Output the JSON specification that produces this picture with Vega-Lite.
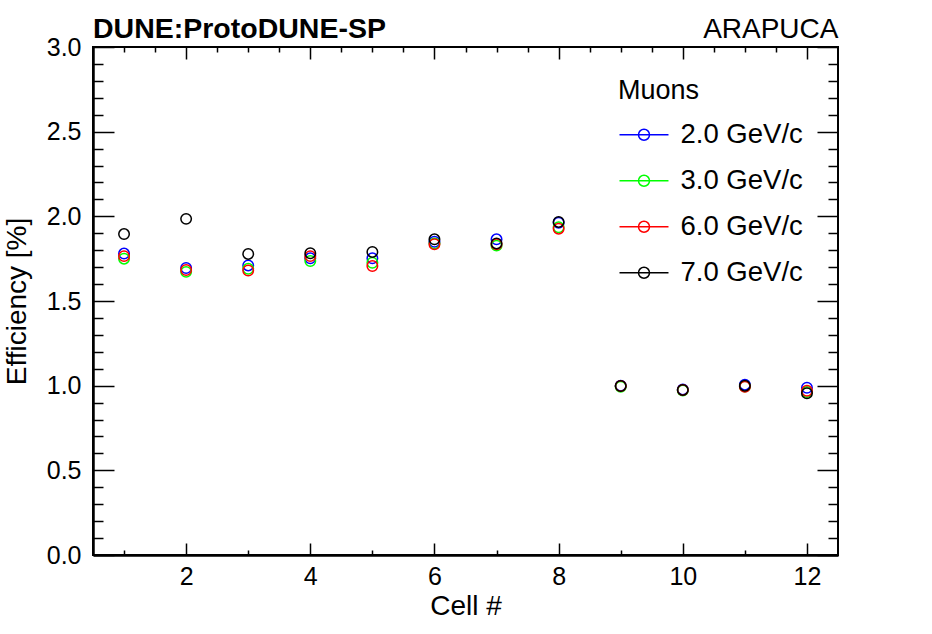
{
  "$schema": "https://vega.github.io/schema/vega-lite/v6.json",
  "width": 745,
  "height": 508,
  "autosize": "none",
  "padding": {"left": 93, "top": 47, "right": 94, "bottom": 79},
  "config": {
    "font": "Liberation Sans",
    "view": {"stroke": "black", "strokeWidth": 2},
    "axis": {
      "grid": false,
      "domainColor": "black",
      "tickColor": "black",
      "labelColor": "black",
      "titleColor": "black",
      "titleFontWeight": "normal",
      "tickWidth": 1.5
    }
  },
  "title": {
    "text": "DUNE:ProtoDUNE-SP",
    "anchor": "start",
    "frame": "group",
    "fontSize": 28.5,
    "fontWeight": "bold",
    "color": "black",
    "baseline": "alphabetic",
    "offset": -28,
    "dy": 23
  },
  "data": {
    "values": [
      {"cell": 1, "p": "2.0 GeV/c", "eff": 1.78},
      {"cell": 1, "p": "3.0 GeV/c", "eff": 1.75},
      {"cell": 1, "p": "6.0 GeV/c", "eff": 1.765},
      {"cell": 1, "p": "7.0 GeV/c", "eff": 1.895},
      {"cell": 2, "p": "2.0 GeV/c", "eff": 1.695},
      {"cell": 2, "p": "3.0 GeV/c", "eff": 1.672},
      {"cell": 2, "p": "6.0 GeV/c", "eff": 1.683},
      {"cell": 2, "p": "7.0 GeV/c", "eff": 1.985},
      {"cell": 3, "p": "2.0 GeV/c", "eff": 1.71},
      {"cell": 3, "p": "3.0 GeV/c", "eff": 1.69},
      {"cell": 3, "p": "6.0 GeV/c", "eff": 1.68},
      {"cell": 3, "p": "7.0 GeV/c", "eff": 1.778},
      {"cell": 4, "p": "2.0 GeV/c", "eff": 1.752},
      {"cell": 4, "p": "3.0 GeV/c", "eff": 1.736},
      {"cell": 4, "p": "6.0 GeV/c", "eff": 1.765},
      {"cell": 4, "p": "7.0 GeV/c", "eff": 1.782},
      {"cell": 5, "p": "2.0 GeV/c", "eff": 1.752},
      {"cell": 5, "p": "3.0 GeV/c", "eff": 1.726},
      {"cell": 5, "p": "6.0 GeV/c", "eff": 1.707},
      {"cell": 5, "p": "7.0 GeV/c", "eff": 1.79},
      {"cell": 6, "p": "2.0 GeV/c", "eff": 1.85},
      {"cell": 6, "p": "3.0 GeV/c", "eff": 1.84},
      {"cell": 6, "p": "6.0 GeV/c", "eff": 1.835},
      {"cell": 6, "p": "7.0 GeV/c", "eff": 1.864},
      {"cell": 7, "p": "2.0 GeV/c", "eff": 1.864},
      {"cell": 7, "p": "3.0 GeV/c", "eff": 1.827},
      {"cell": 7, "p": "6.0 GeV/c", "eff": 1.835},
      {"cell": 7, "p": "7.0 GeV/c", "eff": 1.84},
      {"cell": 8, "p": "2.0 GeV/c", "eff": 1.962},
      {"cell": 8, "p": "3.0 GeV/c", "eff": 1.935},
      {"cell": 8, "p": "6.0 GeV/c", "eff": 1.927},
      {"cell": 8, "p": "7.0 GeV/c", "eff": 1.967},
      {"cell": 9, "p": "2.0 GeV/c", "eff": 1.0},
      {"cell": 9, "p": "3.0 GeV/c", "eff": 0.994},
      {"cell": 9, "p": "6.0 GeV/c", "eff": 0.998},
      {"cell": 9, "p": "7.0 GeV/c", "eff": 0.998},
      {"cell": 10, "p": "2.0 GeV/c", "eff": 0.978},
      {"cell": 10, "p": "3.0 GeV/c", "eff": 0.972},
      {"cell": 10, "p": "6.0 GeV/c", "eff": 0.975},
      {"cell": 10, "p": "7.0 GeV/c", "eff": 0.975},
      {"cell": 11, "p": "2.0 GeV/c", "eff": 1.006},
      {"cell": 11, "p": "3.0 GeV/c", "eff": 0.995},
      {"cell": 11, "p": "6.0 GeV/c", "eff": 0.994},
      {"cell": 11, "p": "7.0 GeV/c", "eff": 1.0},
      {"cell": 12, "p": "2.0 GeV/c", "eff": 0.988},
      {"cell": 12, "p": "3.0 GeV/c", "eff": 0.962},
      {"cell": 12, "p": "6.0 GeV/c", "eff": 0.97},
      {"cell": 12, "p": "7.0 GeV/c", "eff": 0.955}
    ]
  },
  "layer": [
    {
      "mark": {"type": "point", "filled": false, "strokeWidth": 1.5, "size": 110, "opacity": 1},
      "encoding": {
        "x": {
          "field": "cell",
          "type": "quantitative",
          "scale": {"domain": [0.5, 12.5], "nice": false, "zero": false},
          "axis": {
            "orient": "bottom",
            "title": "Cell #",
            "titleFontSize": 28,
            "titlePadding": -4,
            "values": [1, 1.5, 2, 2.5, 3, 3.5, 4, 4.5, 5, 5.5, 6, 6.5, 7, 7.5, 8, 8.5, 9, 9.5, 10, 10.5, 11, 11.5, 12],
            "format": "d",
            "labelExpr": "datum.value % 2 == 0 ? datum.label : ''",
            "labelFontSize": 25,
            "labelPadding": 21,
            "labelFlush": false,
            "labelOverlap": false,
            "tickSize": {"condition": {"test": "datum.value % 2 == 0", "value": -12}, "value": -5},
            "domainWidth": 2.5
          }
        },
        "y": {
          "field": "eff",
          "type": "quantitative",
          "scale": {"domain": [0, 3], "nice": false, "zero": false},
          "axis": {
            "orient": "left",
            "title": "Efficiency [%]",
            "titleFontSize": 28,
            "titlePadding": 15,
            "values": [0, 0.1, 0.2, 0.3, 0.4, 0.5, 0.6, 0.7, 0.8, 0.9, 1, 1.1, 1.2, 1.3, 1.4, 1.5, 1.6, 1.7, 1.8, 1.9, 2, 2.1, 2.2, 2.3, 2.4, 2.5, 2.6, 2.7, 2.8, 2.9, 3],
            "format": ".1f",
            "labelExpr": "abs(datum.value * 2 - round(datum.value * 2)) < 0.001 ? datum.label : ''",
            "labelFontSize": 25,
            "labelPadding": 33,
            "labelFlush": false,
            "labelOverlap": false,
            "tickSize": {"condition": {"test": "abs(datum.value * 2 - round(datum.value * 2)) < 0.001", "value": -21}, "value": -10},
            "domainWidth": 2.5
          }
        },
        "color": {
          "field": "p",
          "type": "nominal",
          "scale": {
            "domain": ["2.0 GeV/c", "3.0 GeV/c", "6.0 GeV/c", "7.0 GeV/c"],
            "range": ["#0000ff", "#00ff00", "#ff0000", "#000000"]
          },
          "legend": {
            "title": "Muons",
            "orient": "none",
            "legendX": 525,
            "legendY": 31,
            "titleFontSize": 27,
            "titleFontWeight": "normal",
            "titleColor": "black",
            "titlePadding": 16,
            "labelFontSize": 27.5,
            "labelColor": "black",
            "labelOffset": 35,
            "symbolType": "M-1,0H3M0.55,0A0.45,0.45,0,1,1,1.45,0A0.45,0.45,0,1,1,0.55,0",
            "symbolSize": 600,
            "symbolStrokeWidth": 1.5,
            "symbolFillColor": "transparent",
            "rowPadding": 17,
            "padding": 0
          }
        },
        "order": {"field": "p", "type": "nominal"}
      }
    },
    {
      "mark": {"type": "point", "opacity": 0},
      "encoding": {
        "x": {
          "field": "cell",
          "type": "quantitative",
          "axis": {
            "orient": "top",
            "title": "ARAPUCA",
            "titleFontSize": 28,
            "titleX": 745,
            "titleY": -10,
            "titleAlign": "right",
            "titleBaseline": "alphabetic",
            "values": [1, 1.5, 2, 2.5, 3, 3.5, 4, 4.5, 5, 5.5, 6, 6.5, 7, 7.5, 8, 8.5, 9, 9.5, 10, 10.5, 11, 11.5, 12],
            "labels": false,
            "domain": false,
            "tickSize": {"condition": {"test": "datum.value % 2 == 0", "value": -12}, "value": -5}
          }
        },
        "y": {
          "field": "eff",
          "type": "quantitative",
          "axis": {
            "orient": "right",
            "title": null,
            "values": [0, 0.1, 0.2, 0.3, 0.4, 0.5, 0.6, 0.7, 0.8, 0.9, 1, 1.1, 1.2, 1.3, 1.4, 1.5, 1.6, 1.7, 1.8, 1.9, 2, 2.1, 2.2, 2.3, 2.4, 2.5, 2.6, 2.7, 2.8, 2.9, 3],
            "labels": false,
            "domain": false,
            "tickSize": {"condition": {"test": "abs(datum.value * 2 - round(datum.value * 2)) < 0.001", "value": -21}, "value": -10}
          }
        }
      }
    }
  ],
  "resolve": {"axis": {"x": "independent", "y": "independent"}}
}
